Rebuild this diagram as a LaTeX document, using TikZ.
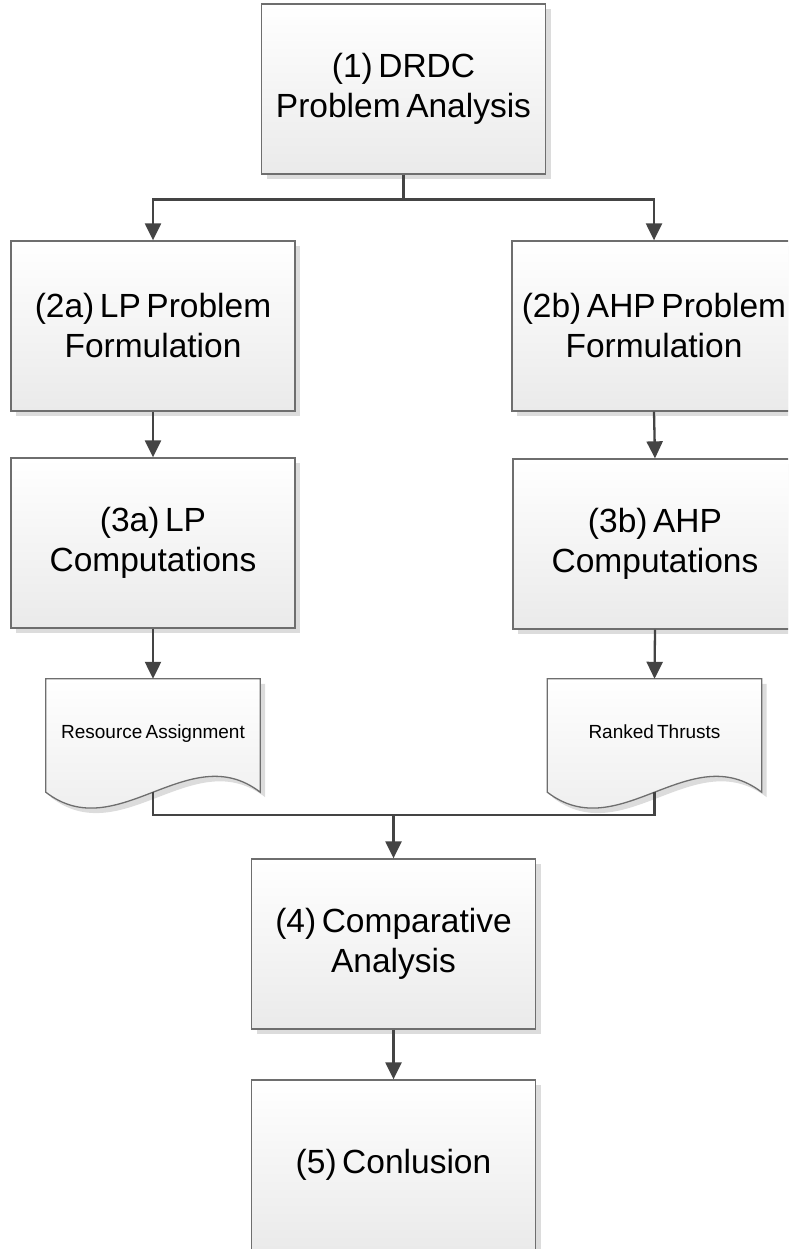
\documentclass[tikz,border=0pt]{standalone}
\usepackage{fontspec}
\setmainfont[WordSpace=0.6]{Liberation Sans}
\usetikzlibrary{arrows.meta,shadows,backgrounds}
\definecolor{linec}{HTML}{444444}
\definecolor{borderc}{HTML}{6E6E6E}
\definecolor{shadowc}{HTML}{DCDCDC}
\definecolor{bottomc}{HTML}{EAEAEA}
\tikzset{
  boxshadow/.style={drop shadow={shadow xshift=5pt, shadow yshift=-5pt, fill=shadowc, opacity=1}},
  procbox/.style={draw=borderc, line width=1.3pt, top color=white, bottom color=bottomc,
    minimum width=284pt, minimum height=170pt, inner sep=0pt, align=center,
    font=\fontsize{33.5}{40}\selectfont, boxshadow},
  docnode/.style={minimum width=214pt, minimum height=113pt, inner sep=0pt,
    font=\fontsize{19}{23}\selectfont},
  docshape/.style={draw=borderc, line width=1.3pt, top color=white, bottom color=bottomc, boxshadow},
  conn/.style={draw=linec, line width=2.3pt},
  arr/.style={conn, -{Triangle[length=17pt,width=16pt]}},
}
\begin{document}
\begin{tikzpicture}[x=1pt,y=-1pt]
\useasboundingbox (0,0) rectangle (788,1249);
\clip (0,0) rectangle (788,1249);

\node[procbox] (b1) at (403.5,89) {(1) DRDC\\Problem Analysis};
\node[procbox] (b2a) at (153,326) {(2a) LP Problem\\Formulation};
\node[procbox] (b2b) at (654,326) {(2b) AHP Problem\\Formulation};
\node[procbox] (b3a) at (153,543) {(3a) LP\\Computations};
\node[procbox] (b3b) at (655,544) {(3b) AHP\\Computations};
\node[procbox] (b4) at (393.5,944) {(4) Comparative\\Analysis};
\node[procbox] (b5) at (393.5,1165) {(5) Conlusion};

\node[docnode] (dA) at (153,735.5) {\raisebox{8pt}{Resource Assignment}};
\node[docnode] (dB) at (654.5,735.5) {\raisebox{8pt}{Ranked Thrusts}};

\begin{scope}[on background layer]
  \path[docshape] (dA.north west) -- (dA.north east) -- (dA.south east)
    .. controls +(-71.3,-55) and +(71.3,55) .. (dA.south west) -- cycle;
  \path[docshape] (dB.north west) -- (dB.north east) -- (dB.south east)
    .. controls +(-71.7,-55) and +(71.7,55) .. (dB.south west) -- cycle;
\end{scope}

\draw[conn] (b1.south) -- ++(0,25) coordinate (split);
\draw[arr] (split) -| (b2a.north);
\draw[arr] (split) -| (b2b.north);
\draw[arr] (b2a.south) -- (b3a.north);
\draw[arr] (b2b.south) -- (b3b.north);
\draw[arr] (b3a.south) -- (dA.north);
\draw[arr] (b3b.south) -- (dB.north);
\draw[conn] (dA.south) -- ++(0,23) coordinate (join) -| (dB.south);
\draw[arr] (join -| b4.north) -- (b4.north);
\draw[arr] (b4.south) -- (b5.north);
\end{tikzpicture}
\end{document}
